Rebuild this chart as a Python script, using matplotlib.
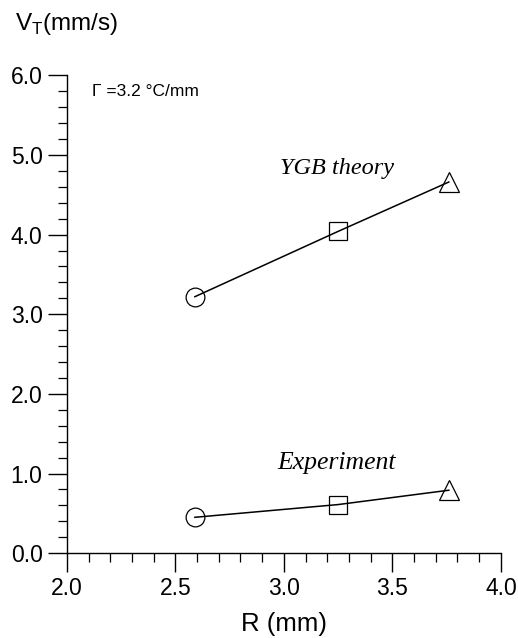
import matplotlib
matplotlib.use("Agg")
import matplotlib.pyplot as plt
from matplotlib.ticker import MultipleLocator

# radius of the points (mm)
radius = [2.59, 3.25, 3.76]
markers = ["o", "s", "^"]

# velocity (mm/s)
ygb_theory = [3.22, 4.04, 4.66]
experiment = [0.45, 0.61, 0.79]

x_ticks = [2.0, 2.5, 3.0, 3.5, 4.0]
y_ticks = [0.0, 1.0, 2.0, 3.0, 4.0, 5.0, 6.0]

plt.rcParams["font.family"] = ["Liberation Sans", "DejaVu Sans"]
plt.rcParams["mathtext.fontset"] = "custom"
plt.rcParams["mathtext.rm"] = "Liberation Sans"

fig = plt.figure(figsize=(5.18, 6.38), dpi=100)
ax = fig.add_axes([0.129, 0.133, 0.838, 0.749])

for series in (ygb_theory, experiment):
    ax.plot(radius, series, color="black", linewidth=1.1, zorder=2)
    for x, y, m in zip(radius, series, markers):
        ax.plot(x, y, marker=m, markersize=13.5 if m != "^" else 14,
                markerfacecolor="none", markeredgecolor="black",
                markeredgewidth=0.9, linestyle="none", zorder=3)

ax.set_xlim(2.0, 4.0)
ax.set_ylim(0.0, 6.0)
ax.set_xticks(x_ticks)
ax.set_yticks(y_ticks)
ax.set_xticklabels([f"{v:.1f}" for v in x_ticks])
ax.set_yticklabels([f"{v:.1f}" for v in y_ticks])
ax.xaxis.set_minor_locator(MultipleLocator(0.1))
ax.yaxis.set_minor_locator(MultipleLocator(0.2))

ax.spines["top"].set_visible(False)
ax.spines["right"].set_visible(False)
ax.spines["left"].set_linewidth(1.0)
ax.spines["bottom"].set_linewidth(1.0)
ax.tick_params(which="major", direction="out", length=13.5, width=1.0,
               labelsize=16.5, pad=4)
ax.tick_params(which="minor", direction="out", length=6.5, width=0.9)

ax.set_xlabel("R (mm)", fontsize=18.5, labelpad=8)

fig.text(0.028, 0.963, r"V$_\mathrm{T}$(mm/s)", fontsize=17.5, ha="left", va="center")
ax.text(2.115, 5.8, "Γ =3.2 °C/mm", fontsize=12.5, ha="left", va="center")

ax.text(2.98, 4.83, "YGB theory", fontsize=17.5, style="italic",
        family="Liberation Serif", ha="left", va="center")
ax.text(2.97, 1.13, "Experiment", fontsize=18.5, style="italic",
        family="Liberation Serif", ha="left", va="center")

fig.savefig("out.png", dpi=100)
